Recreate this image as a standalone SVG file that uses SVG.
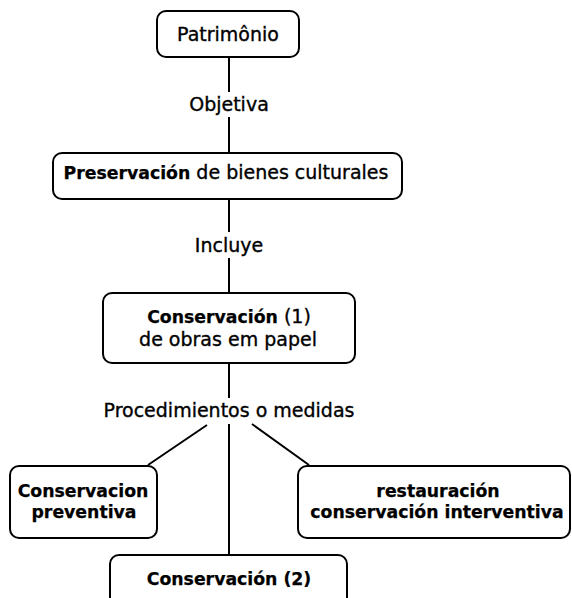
<svg xmlns="http://www.w3.org/2000/svg" width="572" height="598" viewBox="0 0 572 598">
<style>
.box{fill:#fff;stroke:#000;stroke-width:2}
.t{font-family:"DejaVu Sans",sans-serif;font-size:19px;fill:#000;text-anchor:middle;stroke:#000;stroke-width:0.35}
.b{font-weight:bold;font-size:17.3px;stroke-width:0.25}
.c{stroke:#000;stroke-width:2;fill:none}
</style>
<rect width="572" height="598" fill="#fff"/>
<g id="connectors">
<line class="c" x1="229" y1="57" x2="229" y2="92"/>
<line class="c" x1="229" y1="117" x2="229" y2="153"/>
<line class="c" x1="229" y1="199" x2="229" y2="232"/>
<line class="c" x1="229" y1="258" x2="229" y2="293"/>
<line class="c" x1="229" y1="363" x2="229" y2="398"/>
<line class="c" x1="229" y1="424" x2="229" y2="555"/>
<line class="c" x1="207" y1="425" x2="148" y2="465"/>
<line class="c" x1="252" y1="424" x2="309" y2="465"/>
<text class="t" x="229" y="111">Objetiva</text>
<text class="t" x="229" y="252">Incluye</text>
<text class="t" x="229" y="417">Procedimientos o medidas</text>
</g>
<g id="patrimonio">
<rect class="box" x="157" y="11" width="142" height="46" rx="9"/>
<text class="t" x="228" y="41">Patrimônio</text>
</g>
<g id="preservacion">
<rect class="box" x="53" y="153" width="349" height="46" rx="9"/>
<text class="t" x="226" y="179" font-size="18.5"><tspan class="b">Preservación</tspan> de bienes culturales</text>
</g>
<g id="conservacion1">
<rect class="box" x="103" y="293" width="252" height="70" rx="9"/>
<text class="t" x="229" y="323"><tspan class="b">Conservación</tspan> (1)</text>
<text class="t" x="228" y="346">de obras em papel</text>
</g>
<g id="preventiva">
<rect class="box" x="10" y="466" width="147" height="72" rx="9"/>
<text class="t b" x="83" y="497">Conservacion</text>
<text class="t b" x="84" y="518">preventiva</text>
</g>
<g id="restauracion">
<rect class="box" x="298" y="466" width="272" height="72" rx="9"/>
<text class="t b" x="438" y="497">restauración</text>
<text class="t b" x="437" y="518">conservación interventiva</text>
</g>
<g id="conservacion2">
<rect class="box" x="110" y="555" width="237" height="60" rx="9"/>
<text class="t b" x="229" y="585">Conservación (2)</text>
</g>
</svg>
